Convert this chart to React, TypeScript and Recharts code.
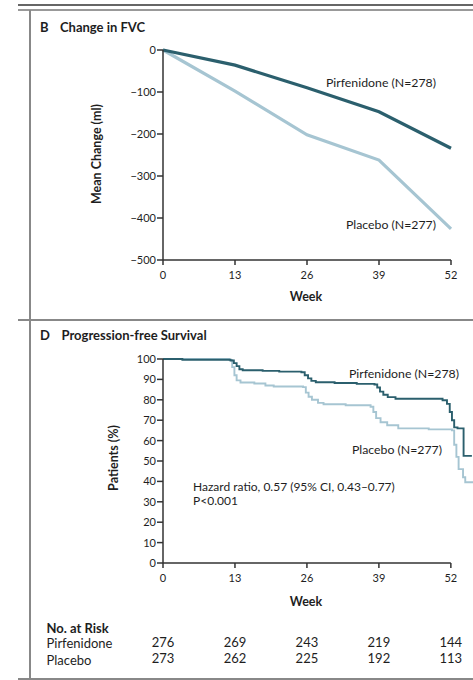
import React from "react";
import { LineChart, Line, XAxis, YAxis, ReferenceLine } from "recharts";

// ---- Data ----
const weekTicks = [0, 13, 26, 39, 52];

// Panel B: Change in FVC (ml)
const fvcWeeks = [0, 13, 26, 39, 52];
const pirfFvc = [0, -36, -90, -147, -234];
const placeboFvc = [0, -98, -202, -262, -426];
const fvcTicks = [0, -100, -200, -300, -400, -500];

// Panel D: Progression-free survival (%)
const pirfKmWeeks = [0, 3.5, 12.2, 12.8, 13.3, 13.8, 14.4, 18, 21, 25.0, 25.6, 26.2, 26.8, 27.6, 31, 35, 38.2, 38.7, 39.2, 39.8, 40.6, 42, 50.5, 51.3, 51.8, 52.2, 52.6, 53.2, 54.3, 55.8];
const pirfKmValues = [100, 99.6, 99.3, 98, 96.5, 95, 94.5, 94.2, 93.8, 93.5, 92, 90.5, 89.3, 88.6, 88.2, 87.8, 87.5, 86, 84, 82.5, 81.3, 80.5, 79.8, 78, 74, 70, 66.5, 66, 52.5, 52.5];
const placeboKmWeeks = [0, 12.0, 12.5, 12.9, 13.3, 14.0, 16.5, 18.5, 20, 25.3, 25.8, 26.3, 26.9, 28.0, 29, 33, 37.5, 38.0, 38.5, 39.3, 40.5, 42.5, 48, 52.2, 52.6, 53.0, 53.4, 54.2, 54.6, 56];
const placeboKmValues = [100, 99.5, 96, 92, 89.5, 88.5, 88, 87, 86.5, 86.2, 83.5, 81.5, 80, 78.5, 77.8, 77.3, 76.6, 74, 71, 69, 67.5, 66, 65.5, 65, 58, 52, 46, 42, 39.6, 39.6];
const kmTicks = [0, 10, 20, 30, 40, 50, 60, 70, 80, 90, 100];

// No. at risk
const pirfRisk = [276, 269, 243, 219, 144];
const placeboRisk = [273, 262, 225, 192, 113];

const fvcData = fvcWeeks.map((w, i) => ({ week: w, pirf: pirfFvc[i], placebo: placeboFvc[i] }));
const pirfKm = pirfKmWeeks.map((w, i) => ({ week: w, v: pirfKmValues[i] }));
const placeboKm = placeboKmWeeks.map((w, i) => ({ week: w, v: placeboKmValues[i] }));

const DARK = "#2b5f6d";
const LIGHT = "#a6c5d2";
const AX = "#333";
const TXT = "#1e1e1e";
const FONT = "Lato, 'Noto Sans', sans-serif";

const fmtMinus = (v: number) => (v < 0 ? "\u2212" + Math.abs(v) : String(v));

const XTick = (props: any) => {
  const { x, y, payload, withRisk } = props;
  const i = weekTicks.indexOf(payload.value);
  return (
    <g>
      <text x={x} y={y} dy={12} textAnchor="middle" fontSize={11} fill={TXT} fontFamily={FONT}>
        {payload.value}
      </text>
      {withRisk && i >= 0 ? (
        <>
          <text x={x} y={y} dy={76.5} textAnchor="middle" fontSize={13} fill={TXT} fontFamily={FONT}>
            {pirfRisk[i]}
          </text>
          <text x={x} y={y} dy={93} textAnchor="middle" fontSize={13} fill={TXT} fontFamily={FONT}>
            {placeboRisk[i]}
          </text>
        </>
      ) : null}
    </g>
  );
};

const abs = (left: number, top: number, extra: React.CSSProperties = {}): React.CSSProperties => ({
  position: "absolute",
  left,
  top,
  lineHeight: 1,
  whiteSpace: "nowrap",
  color: TXT,
  fontFamily: FONT,
  ...extra,
});

export default function App() {
  return (
    <div style={{ position: "absolute", left: 0, top: 0, width: 473, height: 680, background: "#fff", overflow: "hidden", fontFamily: FONT }}>
      {/* frame */}
      <div style={{ position: "absolute", left: 18, top: 4, width: 455, height: 2, background: "#666" }} />
      <div style={{ position: "absolute", left: 18, top: 9, width: 455, height: 1.5, background: "#999" }} />
      <div style={{ position: "absolute", left: 29, top: 10, width: 2, height: 670, background: "#888" }} />
      <div style={{ position: "absolute", left: 18, top: 319, width: 455, height: 2, background: "#888" }} />
      <div style={{ position: "absolute", left: 18, top: 678, width: 455, height: 2, background: "#888" }} />

      {/* Panel B */}
      <div style={abs(40, 20.5, { fontSize: 13, fontWeight: 700 })}>B</div>
      <div style={abs(60, 20.5, { fontSize: 13, fontWeight: 700 })}>Change in FVC</div>
      <div style={{ position: "absolute", left: 0, top: 0 }}>
        <LineChart width={473} height={320} data={fvcData} margin={{ top: 50, right: 22, bottom: 30, left: 103 }}>
          <XAxis
            dataKey="week"
            type="number"
            domain={[0, 52]}
            ticks={weekTicks}
            stroke={AX}
            strokeWidth={1.5}
            tickSize={5}
            tick={<XTick />}
            height={30}
          />
          <YAxis
            type="number"
            domain={[-500, 0]}
            ticks={fvcTicks}
            tickFormatter={fmtMinus}
            stroke={AX}
            strokeWidth={1.5}
            tickSize={6}
            tickMargin={1}
            width={60}
            tick={{ fill: TXT, fontSize: 11, fontFamily: FONT }}
          />
          <Line dataKey="placebo" type="linear" stroke={LIGHT} strokeWidth={3.2} dot={false} isAnimationActive={false} />
          <Line dataKey="pirf" type="linear" stroke={DARK} strokeWidth={3.2} dot={false} isAnimationActive={false} />
        </LineChart>
      </div>
      <div style={abs(97, 154, { fontSize: 12.5, fontWeight: 700, transform: "translate(-50%,-50%) rotate(-90deg)" })}>Mean Change (ml)</div>
      <div style={abs(306, 297, { fontSize: 12.5, fontWeight: 700, transform: "translate(-50%,-50%)" })}>Week</div>
      <div style={{ ...abs(0, 77, { fontSize: 12.3 }), left: "auto", right: 37 }}>Pirfenidone (N=278)</div>
      <div style={{ ...abs(0, 219, { fontSize: 12.3 }), left: "auto", right: 37 }}>Placebo (N=277)</div>

      {/* Panel D */}
      <div style={abs(40, 329, { fontSize: 13, fontWeight: 700 })}>D</div>
      <div style={abs(61.5, 329, { fontSize: 13, fontWeight: 700 })}>Progression-free Survival</div>
      <div style={{ position: "absolute", left: 0, top: 320 }}>
        <LineChart width={473} height={360} margin={{ top: 39, right: 0, bottom: 77, left: 103 }}>
          <XAxis
            dataKey="week"
            type="number"
            domain={[0, 56]}
            ticks={weekTicks}
            axisLine={false}
            stroke={AX}
            strokeWidth={1.5}
            tickSize={5}
            tick={<XTick withRisk />}
            height={40}
            allowDuplicatedCategory={false}
          />
          <YAxis
            type="number"
            domain={[0, 100]}
            ticks={kmTicks}
            stroke={AX}
            strokeWidth={1.5}
            tickSize={6}
            tickMargin={1}
            width={60}
            tick={{ fill: TXT, fontSize: 11, fontFamily: FONT }}
          />
          <ReferenceLine segment={[{ x: 0, y: 0 }, { x: 52, y: 0 }]} stroke={AX} strokeWidth={1.5} />
          <Line data={placeboKm} dataKey="v" type="stepAfter" stroke={LIGHT} strokeWidth={1.9} dot={false} isAnimationActive={false} />
          <Line data={pirfKm} dataKey="v" type="stepAfter" stroke={DARK} strokeWidth={1.9} dot={false} isAnimationActive={false} />
        </LineChart>
      </div>
      <div style={abs(114, 458, { fontSize: 12.5, fontWeight: 700, transform: "translate(-50%,-50%) rotate(-90deg)" })}>Patients (%)</div>
      <div style={abs(306, 602, { fontSize: 12.5, fontWeight: 700, transform: "translate(-50%,-50%)" })}>Week</div>
      <div style={{ ...abs(0, 368, { fontSize: 12.3 }), left: "auto", right: 14 }}>Pirfenidone (N=278)</div>
      <div style={{ ...abs(0, 444, { fontSize: 12.3 }), left: "auto", right: 31 }}>Placebo (N=277)</div>
      <div style={abs(193, 481, { fontSize: 12 })}>Hazard ratio, 0.57 (95% CI, 0.43–0.77)</div>
      <div style={abs(193, 495, { fontSize: 12 })}>P&lt;0.001</div>

      {/* No. at risk */}
      <div style={abs(46.5, 621.5, { fontSize: 13, fontWeight: 700 })}>No. at Risk</div>
      <div style={abs(46.5, 637, { fontSize: 13 })}>Pirfenidone</div>
      <div style={abs(46.5, 653.5, { fontSize: 13 })}>Placebo</div>
    </div>
  );
}
